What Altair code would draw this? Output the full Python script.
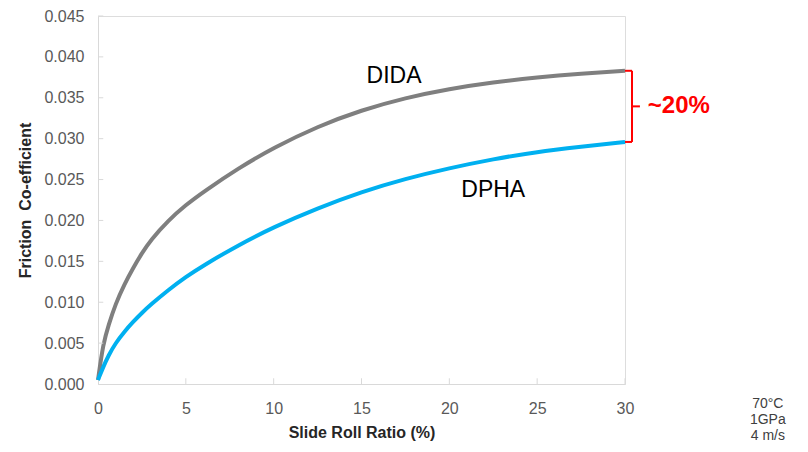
import altair as alt
import pandas as pd

# Slide roll ratio (%) sample positions
srr = [0, 0.3, 0.6, 1, 1.5, 2, 2.5, 3, 4, 5, 6, 8, 10, 12.5, 15, 17.5, 20, 22.5, 25, 27.5, 30]
dida = [0.0005, 0.0050, 0.0072, 0.0098, 0.0122, 0.0142, 0.0160, 0.0176, 0.0200, 0.0219, 0.0235,
        0.0264, 0.0289, 0.0315, 0.0335, 0.0350, 0.0361, 0.0369, 0.0375, 0.03795, 0.0383]
dpha = [0.0005, 0.0021, 0.0035, 0.0050, 0.0064, 0.0076, 0.0087, 0.0097, 0.0115, 0.0131, 0.0145,
        0.0170, 0.0192, 0.0215, 0.0235, 0.0251, 0.0264, 0.0275, 0.0284, 0.0290, 0.0296]

x_ticks = [0, 5, 10, 15, 20, 25, 30]
y_ticks = [0.000, 0.005, 0.010, 0.015, 0.020, 0.025, 0.030, 0.035, 0.040, 0.045]

series_labels = ["DIDA", "DPHA"]
label_x = [16.85, 22.5]
label_y = [0.0377, 0.0237]

note_lines = ["70°C", "1GPa", "4 m/s"]
note_y = [-0.0024, -0.0044, -0.0063]

FONT = "Liberation Sans"
GRAY = "#7f7f7f"
BLUE = "#00b0f0"
AXIS_C = "#d9d9d9"

df = pd.DataFrame({"srr": srr * 2,
                   "mu": dida + dpha,
                   "series": ["DIDA"] * len(srr) + ["DPHA"] * len(srr)})

xs = alt.Scale(domain=[0, 30], nice=False, zero=False)
ys = alt.Scale(domain=[0, 0.045], nice=False, zero=False)

X = alt.X("srr:Q", scale=xs,
          axis=alt.Axis(title="Slide Roll Ratio (%)", values=x_ticks, ticks=False, grid=False,
                        domainColor=AXIS_C, domainWidth=1, labelFont=FONT, labelFontSize=16,
                        labelColor="#595959", labelPadding=16, labelFlush=False,
                        titleFont=FONT, titleFontSize=16, titleFontWeight="bold",
                        titleColor="#262626", titlePadding=8))
Y = alt.Y("mu:Q", scale=ys,
          axis=alt.Axis(title="Friction\u00a0 Co-efficient", values=y_ticks, format=".3f",
                        ticks=False, grid=False, domainColor=AXIS_C, domainWidth=1,
                        labelFont=FONT, labelFontSize=16, labelColor="#595959",
                        labelPadding=14, labelFlush=False, titleFont=FONT, titleFontSize=16,
                        titleFontWeight="bold", titleColor="#262626", titlePadding=10))

lines = alt.Chart(df).mark_line(strokeWidth=4, interpolate="basis").encode(
    x=X, y=Y,
    color=alt.Color("series:N", scale=alt.Scale(domain=["DIDA", "DPHA"], range=[GRAY, BLUE]),
                    legend=None),
    order=alt.Order("series:N", sort="descending"),
)

# inward tick marks
xt = alt.Chart(pd.DataFrame({"x": x_ticks[1:], "y0": [0.0] * 6, "y1": [0.0007] * 6})).mark_rule(
    color=AXIS_C, strokeWidth=1).encode(x=alt.X("x:Q", scale=xs), y=alt.Y("y0:Q", scale=ys),
                                         y2="y1:Q")
yt = alt.Chart(pd.DataFrame({"y": y_ticks[1:], "x0": [0.0] * 9, "x1": [0.3] * 9})).mark_rule(
    color=AXIS_C, strokeWidth=1).encode(y=alt.Y("y:Q", scale=ys), x=alt.X("x0:Q", scale=xs),
                                         x2="x1:Q")

labels = alt.Chart(pd.DataFrame({"t": series_labels, "x": label_x, "y": label_y})).mark_text(
    font=FONT, fontSize=23, color="#000000", align="center", baseline="middle").encode(
    x=alt.X("x:Q", scale=xs), y=alt.Y("y:Q", scale=ys), text="t:N")

# bracket
top, bot = dida[-1], dpha[-1]
bx = 30.4
br = pd.DataFrame({"x": [bx, 30.0, 30.0, bx], "x2": [bx, bx, bx, 30.85],
                   "y": [bot, top, bot, (top + bot) / 2], "y2": [top, top, bot, (top + bot) / 2]})
bracket = alt.Chart(br).mark_rule(color="#ff0000", strokeWidth=2).encode(
    x=alt.X("x:Q", scale=xs), x2="x2:Q", y=alt.Y("y:Q", scale=ys), y2="y2:Q")

pct = alt.Chart(pd.DataFrame({"t": ["~20%"], "x": [31.3], "y": [(top + bot) / 2]})).mark_text(
    font=FONT, fontSize=24, fontWeight="bold", color="#ff0000", align="left",
    baseline="middle").encode(x=alt.X("x:Q", scale=xs), y=alt.Y("y:Q", scale=ys), text="t:N")

notes = alt.Chart(pd.DataFrame({"t": note_lines, "x": [38.13] * 3, "y": note_y})).mark_text(
    font=FONT, fontSize=14, color="#404040", align="center", baseline="middle").encode(
    x=alt.X("x:Q", scale=xs), y=alt.Y("y:Q", scale=ys), text="t:N")

chart = alt.layer(lines, xt, yt, labels, bracket, pct, notes).properties(
    width=527, height=368,
    autosize=alt.AutoSizeParams(type="none"),
    padding={"left": 90, "top": 8, "right": 175, "bottom": 60},
).configure_view(stroke=None).configure(background="#ffffff")

chart.save("out.html", embed_options={"renderer": "svg", "actions": False})
